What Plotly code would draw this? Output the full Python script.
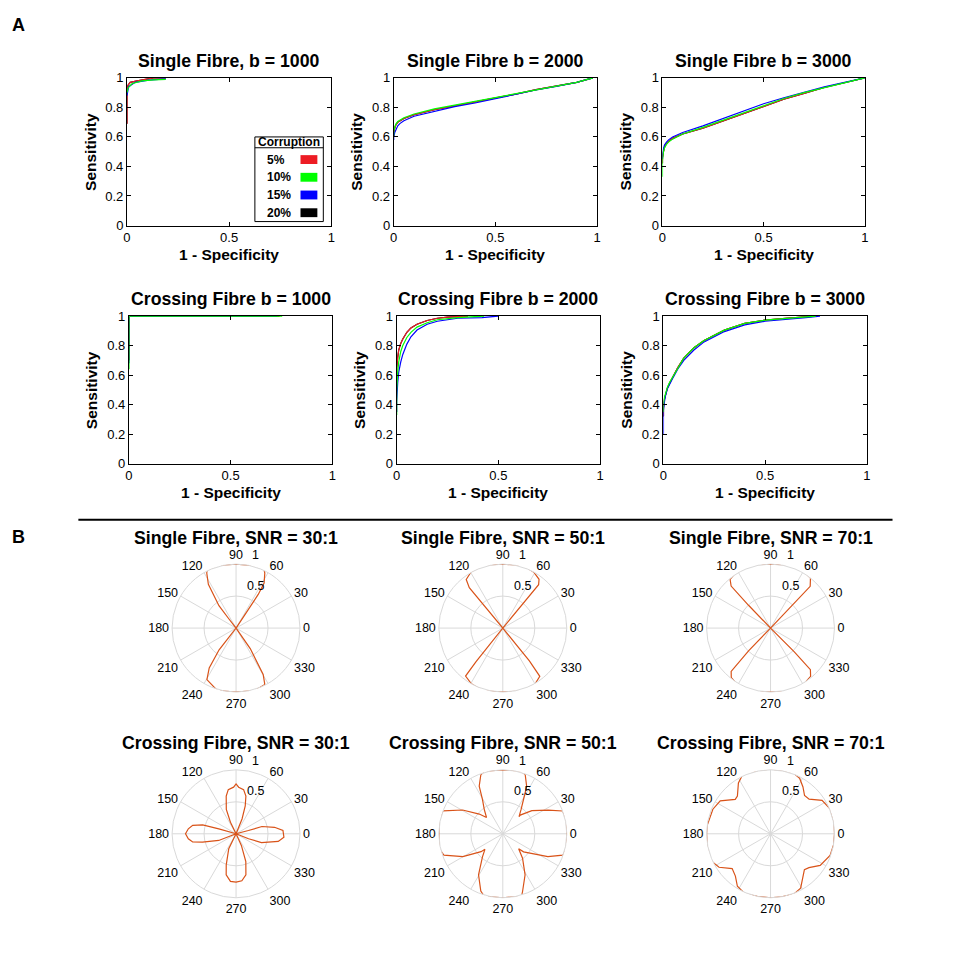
import plotly.graph_objects as go

# ---------------- DATA ----------------
corruption_levels = ["5%", "10%", "15%", "20%"]
corruption_colors = ["#ED1C24", "#00FF00", "#0000FF", "#000000"]

roc_titles = ["Single Fibre, b = 1000", "Single Fibre b = 2000", "Single Fibre b = 3000",
              "Crossing Fibre b = 1000", "Crossing Fibre b = 2000", "Crossing Fibre b = 3000"]
roc_xticks = [0, 0.5, 1]
roc_xticklabels = ["0", "0.5", "1"]
roc_yticks = [0, 0.2, 0.4, 0.6, 0.8, 1]
roc_yticklabels = ["0", "0.2", "0.4", "0.6", "0.8", "1"]

# Single fibre b=1000
sf1000_5_x = [0, 0, 0.005, 0.016, 0.05, 0.106, 0.13, 0.19]
sf1000_5_y = [0.69, 0.90, 0.95, 0.97, 0.98, 0.993, 1.0, 1.0]
sf1000_10_x = [0, 0.005, 0.024, 0.073, 0.13, 0.19]
sf1000_10_y = [0.90, 0.93, 0.96, 0.98, 0.987, 0.99]
sf1000_15_x = [0, 0.008, 0.04, 0.106, 0.19]
sf1000_15_y = [0.88, 0.94, 0.97, 0.985, 0.993]
sf1000_20_x = [0, 0, 0.005, 0.016, 0.05, 0.106, 0.13, 0.19]
sf1000_20_y = [0.69, 0.90, 0.95, 0.97, 0.98, 0.993, 1.0, 1.0]

# Single fibre b=2000
sf2000_x = [0, 0, 0.005, 0.01, 0.02, 0.03, 0.05, 0.1, 0.2, 0.3, 0.4, 0.5, 0.6, 0.7, 0.8, 0.9, 0.98]
sf2000_5_y = [0.60, 0.63, 0.66, 0.68, 0.70, 0.71, 0.725, 0.75, 0.785, 0.81, 0.835, 0.865, 0.89, 0.92, 0.945, 0.97, 1.0]
sf2000_10_y = [0.61, 0.64, 0.665, 0.685, 0.705, 0.715, 0.73, 0.755, 0.79, 0.815, 0.84, 0.865, 0.89, 0.92, 0.945, 0.97, 1.0]
sf2000_15_y = [0.58, 0.60, 0.63, 0.65, 0.675, 0.69, 0.71, 0.74, 0.775, 0.805, 0.83, 0.86, 0.888, 0.918, 0.943, 0.97, 1.0]
sf2000_20_y = [0.60, 0.63, 0.66, 0.68, 0.70, 0.71, 0.725, 0.75, 0.785, 0.81, 0.835, 0.865, 0.89, 0.92, 0.945, 0.97, 1.0]

# Single fibre b=3000
sf3000_x = [0, 0, 0.005, 0.01, 0.02, 0.03, 0.05, 0.1, 0.2, 0.3, 0.4, 0.5, 0.6, 0.7, 0.8, 0.9, 1.0]
sf3000_5_y = [0.42, 0.46, 0.50, 0.53, 0.555, 0.57, 0.59, 0.62, 0.66, 0.71, 0.76, 0.81, 0.855, 0.895, 0.935, 0.967, 1.0]
sf3000_10_y = [0.33, 0.44, 0.50, 0.525, 0.55, 0.565, 0.585, 0.62, 0.665, 0.715, 0.765, 0.815, 0.86, 0.90, 0.935, 0.968, 1.0]
sf3000_15_y = [0.45, 0.48, 0.52, 0.545, 0.565, 0.58, 0.60, 0.63, 0.675, 0.725, 0.775, 0.825, 0.865, 0.905, 0.94, 0.97, 1.0]
sf3000_20_y = [0.42, 0.46, 0.50, 0.53, 0.555, 0.57, 0.59, 0.62, 0.66, 0.71, 0.76, 0.81, 0.855, 0.895, 0.935, 0.967, 1.0]

# Crossing fibre b=1000
cf1000_5_x = [0, 0, 0.74]
cf1000_5_y = [0.70, 1.0, 1.0]
cf1000_10_x = [0, 0, 0.754]
cf1000_10_y = [0.64, 1.0, 1.0]
cf1000_15_x = [0, 0, 0.73]
cf1000_15_y = [0.68, 1.0, 1.0]
cf1000_20_x = [0, 0, 0.74]
cf1000_20_y = [0.70, 1.0, 1.0]

# Crossing fibre b=2000
cf2000_5_x = [0, 0, 0.005, 0.01, 0.02, 0.03, 0.05, 0.07, 0.1, 0.15, 0.2, 0.25, 0.35]
cf2000_5_y = [0.55, 0.65, 0.72, 0.77, 0.815, 0.845, 0.89, 0.92, 0.945, 0.97, 0.985, 0.993, 1.0]
cf2000_10_x = [0, 0, 0.005, 0.01, 0.02, 0.03, 0.05, 0.07, 0.1, 0.15, 0.2, 0.3, 0.43]
cf2000_10_y = [0.33, 0.50, 0.62, 0.69, 0.76, 0.80, 0.855, 0.89, 0.925, 0.955, 0.975, 0.99, 1.0]
cf2000_15_x = [0, 0, 0.005, 0.01, 0.02, 0.03, 0.05, 0.07, 0.1, 0.15, 0.2, 0.3, 0.42, 0.5]
cf2000_15_y = [0.35, 0.42, 0.55, 0.62, 0.69, 0.74, 0.81, 0.86, 0.905, 0.945, 0.965, 0.985, 0.99, 1.0]
cf2000_20_x = [0, 0, 0.005, 0.01, 0.02, 0.03, 0.05, 0.07, 0.1, 0.15, 0.2, 0.25, 0.35]
cf2000_20_y = [0.55, 0.65, 0.72, 0.77, 0.815, 0.845, 0.89, 0.92, 0.945, 0.97, 0.985, 0.993, 1.0]

# Crossing fibre b=3000
cf3000_x = [0, 0, 0.005, 0.01, 0.02, 0.03, 0.05, 0.07, 0.1, 0.15, 0.2, 0.3, 0.4, 0.5, 0.6, 0.7, 0.75]
cf3000_5_y = [0.32, 0.38, 0.44, 0.47, 0.515, 0.545, 0.60, 0.65, 0.715, 0.785, 0.835, 0.905, 0.95, 0.972, 0.985, 0.993, 1.0]
cf3000_10_y = [0.35, 0.40, 0.45, 0.48, 0.52, 0.55, 0.60, 0.65, 0.715, 0.785, 0.835, 0.905, 0.95, 0.972, 0.985, 0.993, 1.0]
cf3000_15_x = [0, 0, 0.005, 0.01, 0.02, 0.03, 0.05, 0.07, 0.1, 0.15, 0.2, 0.3, 0.4, 0.5, 0.6, 0.7, 0.77]
cf3000_15_y = [0.20, 0.36, 0.42, 0.46, 0.51, 0.54, 0.59, 0.64, 0.70, 0.77, 0.825, 0.895, 0.94, 0.965, 0.98, 0.99, 1.0]
cf3000_20_y = [0.32, 0.38, 0.44, 0.47, 0.515, 0.545, 0.60, 0.65, 0.715, 0.785, 0.835, 0.905, 0.95, 0.972, 0.985, 0.993, 1.0]

# Polar ODF profiles (theta in degrees, normalised amplitude)
polar_titles = ["Single Fibre, SNR = 30:1", "Single Fibre, SNR = 50:1", "Single Fibre, SNR = 70:1",
                "Crossing Fibre, SNR = 30:1", "Crossing Fibre, SNR = 50:1", "Crossing Fibre, SNR = 70:1"]
angle_ticks = [0, 30, 60, 90, 120, 150, 180, 210, 240, 270, 300, 330]
angle_ticklabels = ["0", "30", "60", "90", "120", "150", "180", "210", "240", "270", "300", "330"]
radial_ticks = [0.5, 1]
radial_ticklabels = ["0.5", "1"]

sf30_theta = [56, 56.6, 58.1, 62.4, 64.8, 73.3, 90, 106.5, 116.6, 118, 122.3, 127.4, 128, 128,
              232, 232, 236, 240.5, 253.5, 270, 286.8, 297, 300.3, 304.7, 305]
sf30_r = [0, 0.63, 0.83, 0.97, 1.02, 1.02, 1.0, 1.02, 1.01, 0.975, 0.81, 0.44, 0.18, 0,
          0, 0.43, 0.75, 0.925, 1.02, 1.0, 1.02, 0.99, 0.84, 0.39, 0]

sf50_theta = [50.5, 50.5, 53.4, 61, 72.2, 90, 106.2, 119.3, 127, 129.7, 129.7,
              231.4, 231.4, 232.2, 240.6, 252.3, 270, 288, 299.7, 307.5, 309, 309]
sf50_r = [0, 0.88, 0.95, 1.0, 1.03, 1.0, 1.03, 1.01, 0.95, 0.82, 0,
          0, 0.67, 0.95, 1.0, 1.03, 1.0, 1.03, 1.01, 0.95, 0.66, 0]

sf70_theta = [46, 46.5, 51.4, 60.2, 72.4, 90, 107, 122.7, 129.7, 133.2, 134, 134,
              226, 226, 227.7, 231.7, 241, 253, 270, 287, 298.7, 309.7, 313.8, 315, 315]
sf70_r = [0, 0.9, 1.0, 1.03, 1.035, 1.0, 1.035, 1.02, 0.99, 0.9, 0.49, 0,
          0, 0.49, 0.915, 0.99, 1.03, 1.035, 1.0, 1.035, 1.03, 0.98, 0.9, 0.52, 0]

cf30_theta = [338.5, 338.5, 341, 349.8, 356, 4, 9.6, 15.7, 14.7, 14.7,
              68, 68, 71.8, 75.4, 80.3, 86.8, 90, 93, 100, 104.6, 111.8, 116, 116,
              164, 164, 165, 169, 174, 180, 186, 190.7, 193.8, 201, 201,
              244, 244, 252.5, 256.5, 263.3, 270, 277, 283.5, 289.4, 294.6, 294.6]
cf30_r = [0, 0.21, 0.42, 0.67, 0.75, 0.735, 0.61, 0.42, 0.2, 0,
          0, 0.25, 0.46, 0.61, 0.70, 0.73, 0.78, 0.73, 0.70, 0.61, 0.41, 0.2, 0,
          0, 0.28, 0.54, 0.69, 0.75, 0.79, 0.75, 0.69, 0.54, 0.29, 0,
          0, 0.26, 0.51, 0.66, 0.75, 0.755, 0.74, 0.66, 0.46, 0.2, 0]

cf50_theta = [0, 13, 20.9, 27.5, 38.5, 47, 46.7, 53.3, 59, 63.3, 69.3, 74.6, 90, 106.5, 110.4,
              116.4, 120.6, 127.2, 135, 140, 149.4, 159, 167, 180, 193, 199.9, 209.8, 219.4,
              221, 228.5, 239.4, 249, 253.5, 270, 286.7, 289, 298.5, 309, 316.8, 319, 333.1,
              340.4, 347, 360]
cf50_r = [1.0, 1.02, 1.0, 0.8, 0.58, 0.40, 0.37, 0.48, 0.63, 0.83, 0.99, 1.02, 1.0, 1.02, 0.985,
          0.83, 0.625, 0.48, 0.36, 0.48, 0.73, 1.0, 1.02, 1.0, 1.02, 0.98, 0.72, 0.44,
          0.37, 0.48, 0.745, 0.96, 1.02, 1.0, 1.02, 0.95, 0.73, 0.49, 0.34, 0.43, 0.79,
          0.996, 1.02, 1.0]

cf70_theta = [0, 11, 22.4, 33, 41.9, 48.4, 55.3, 62.4, 70.3, 80, 90, 100, 114.7, 122.3, 131.3,
              135.8, 146.8, 156.9, 172.6, 180, 192, 203.3, 213, 222.2, 230.3, 237.7, 247, 258,
              270, 280, 291.3, 299, 313.4, 318.6, 327.5, 340, 350, 360]
cf70_r = [1.0, 1.01, 1.01, 0.96, 0.81, 0.80, 0.89, 0.98, 1.02, 1.01, 1.01, 1.01, 1.03, 0.94, 0.785,
          0.77, 0.94, 0.98, 1.0, 1.0, 1.01, 1.03, 0.96, 0.81, 0.86, 0.97, 1.02, 1.0,
          1.0, 1.0, 1.01, 0.97, 0.77, 0.80, 0.92, 0.99, 1.0, 1.0]

# ---------------- LAYOUT HELPERS ----------------
W, H = 959, 954
FONT = "Liberation Sans, Arial, sans-serif"
GRID = "#d9d9d9"
ODF_COLOR = "#D95319"
TITLE_SIZE = 17.7


def fx(px):
    return px / W


def fy(py):
    return 1 - py / H


roc_panels = [
    [(sf1000_20_x, sf1000_20_y), (sf1000_5_x, sf1000_5_y), (sf1000_10_x, sf1000_10_y), (sf1000_15_x, sf1000_15_y)],
    [(sf2000_x, sf2000_20_y), (sf2000_x, sf2000_5_y), (sf2000_x, sf2000_10_y), (sf2000_x, sf2000_15_y)],
    [(sf3000_x, sf3000_20_y), (sf3000_x, sf3000_5_y), (sf3000_x, sf3000_10_y), (sf3000_x, sf3000_15_y)],
    [(cf1000_20_x, cf1000_20_y), (cf1000_5_x, cf1000_5_y), (cf1000_10_x, cf1000_10_y), (cf1000_15_x, cf1000_15_y)],
    [(cf2000_20_x, cf2000_20_y), (cf2000_5_x, cf2000_5_y), (cf2000_10_x, cf2000_10_y), (cf2000_15_x, cf2000_15_y)],
    [(cf3000_x, cf3000_20_y), (cf3000_x, cf3000_5_y), (cf3000_x, cf3000_10_y), (cf3000_15_x, cf3000_15_y)],
]
panel_series = [3, 0, 1, 2]
draw_order = [0, 1, 3, 2]

roc_boxes = [(124, 330, 72, 222), (393, 598, 72, 222), (664, 868, 72, 222),
             (126, 331, 314, 464), (396, 601, 314, 464), (665, 870, 314, 464)]

polar_data = [(sf30_theta, sf30_r), (sf50_theta, sf50_r), (sf70_theta, sf70_r),
              (cf30_theta, cf30_r), (cf50_theta, cf50_r), (cf70_theta, cf70_r)]
polar_centers = [(234, 631), (503, 631), (773, 631), (234, 840), (503, 840), (773, 840)]
R = 65

fig = go.Figure()
layout = dict(width=W, height=H, margin=dict(l=0, r=0, t=0, b=0), autosize=False,
              paper_bgcolor="white", plot_bgcolor="white", showlegend=False,
              font=dict(family=FONT, color="black"), hovermode=False)
annotations = []
shapes = []

for i, (panel, box) in enumerate(zip(roc_panels, roc_boxes)):
    ax = "" if i == 0 else str(i + 1)
    l, r, t, b = box
    for k in draw_order:
        xs, ys = panel[k]
        s = panel_series[k]
        fig.add_trace(go.Scatter(x=xs, y=ys, mode="lines", xaxis="x" + ax, yaxis="y" + ax,
                                 line=dict(color=corruption_colors[s], width=1.2),
                                 name=corruption_levels[s], showlegend=False))
    common = dict(showline=True, linecolor="black", linewidth=1, mirror="ticks",
                  ticks="inside", ticklen=4, tickcolor="black", showgrid=False,
                  zeroline=False, tickfont=dict(size=13, family=FONT), fixedrange=True)
    layout["xaxis" + ax] = dict(domain=[fx(l), fx(r)], range=[0, 1], anchor="y" + ax,
                                tickmode="array", tickvals=roc_xticks, ticktext=roc_xticklabels, **common)
    layout["yaxis" + ax] = dict(domain=[fy(b), fy(t)], range=[0, 1], anchor="x" + ax,
                                tickmode="array", tickvals=roc_yticks, ticktext=roc_yticklabels, **common)
    annotations.append(dict(text=roc_titles[i], x=fx((l + r) / 2), y=fy(t - 17), xref="paper", yref="paper",
                            showarrow=False, xanchor="center", yanchor="middle",
                            font=dict(size=TITLE_SIZE, family=FONT, weight="bold")))
    annotations.append(dict(text="1 - Specificity", x=fx((l + r) / 2), y=fy(b + 29), xref="paper", yref="paper",
                            showarrow=False, xanchor="center", yanchor="middle",
                            font=dict(size=15.5, family=FONT, weight="bold")))
    annotations.append(dict(text="Sensitivity", x=fx(l - 37), y=fy((t + b) / 2), xref="paper", yref="paper",
                            showarrow=False, xanchor="center", yanchor="middle", textangle=-90,
                            font=dict(size=15.5, family=FONT, weight="bold")))

# Legend (Corruption) drawn inside first panel
lg_l, lg_r, lg_t, lg_b = 253, 322, 132, 218
shapes.append(dict(type="rect", xref="paper", yref="paper", x0=fx(lg_l), x1=fx(lg_r), y0=fy(lg_b), y1=fy(lg_t),
                   line=dict(color="black", width=1), fillcolor="white"))
shapes.append(dict(type="line", xref="paper", yref="paper", x0=fx(lg_l), x1=fx(lg_r), y0=fy(143), y1=fy(143),
                   line=dict(color="black", width=1)))
annotations.append(dict(text="Corruption", x=fx((lg_l + lg_r) / 2), y=fy(137.5), xref="paper", yref="paper",
                        showarrow=False, xanchor="center", yanchor="middle",
                        font=dict(size=12, family=FONT, weight="bold")))
for s, (lab, col) in enumerate(zip(corruption_levels, corruption_colors)):
    yc = 155 + 18 * s
    annotations.append(dict(text=lab, x=fx(263), y=fy(yc), xref="paper", yref="paper",
                            showarrow=False, xanchor="left", yanchor="middle",
                            font=dict(size=12, family=FONT, weight="bold")))
    shapes.append(dict(type="rect", xref="paper", yref="paper", x0=fx(299), x1=fx(316),
                       y0=fy(yc + 4.5), y1=fy(yc - 4.5), line=dict(width=0), fillcolor=col))

# Polar plots
for j, ((th, rr), (cx, cy)) in enumerate(zip(polar_data, polar_centers)):
    name = "polar" if j == 0 else "polar%d" % (j + 1)
    fig.add_trace(go.Scatterpolar(theta=th, r=rr, mode="lines", subplot=name,
                                  line=dict(color=ODF_COLOR, width=1.2), showlegend=False,
                                  cliponaxis=False))
    layout[name] = dict(
        domain=dict(x=[fx(cx - R), fx(cx + R)], y=[fy(cy + R), fy(cy - R)]),
        bgcolor="white",
        radialaxis=dict(range=[0, 1], tickmode="array", tickvals=radial_ticks, showticklabels=False,
                        ticks="", showline=False, gridcolor=GRID, gridwidth=1),
        angularaxis=dict(tickmode="array", tickvals=angle_ticks, ticktext=angle_ticklabels,
                         ticks="", showline=True, linecolor=GRID, linewidth=1, gridcolor=GRID,
                         tickfont=dict(size=12.5, family=FONT, color="black"),
                         rotation=0, direction="counterclockwise"),
    )
    for lab, (dx, dy) in zip(radial_ticklabels, [(20, 43), (20, 74)]):
        annotations.append(dict(text=lab, x=fx(cx + dx), y=fy(cy - dy), xref="paper", yref="paper",
                                showarrow=False, xanchor="center", yanchor="middle",
                                font=dict(size=12.5, family=FONT)))
    annotations.append(dict(text=polar_titles[j], x=fx(cx), y=fy(cy - 92), xref="paper", yref="paper",
                            showarrow=False, xanchor="center", yanchor="middle",
                            font=dict(size=TITLE_SIZE, family=FONT, weight="bold")))

# Panel letters and separator
annotations.append(dict(text="A", x=fx(15), y=fy(18), xref="paper", yref="paper", showarrow=False,
                        xanchor="center", yanchor="middle", font=dict(size=18, family=FONT, weight="bold")))
annotations.append(dict(text="B", x=fx(15), y=fy(538), xref="paper", yref="paper", showarrow=False,
                        xanchor="center", yanchor="middle", font=dict(size=18, family=FONT, weight="bold")))
shapes.append(dict(type="line", xref="paper", yref="paper", x0=fx(75), x1=fx(896), y0=fy(521), y1=fy(521),
                   line=dict(color="black", width=2)))

layout["annotations"] = annotations
layout["shapes"] = shapes
fig.update_layout(**layout)
fig.write_html("out.html", config={"displayModeBar": False, "staticPlot": True})

# remove default page margins so the figure maps 1:1 onto the window
with open("out.html", "r", encoding="utf-8") as fh:
    html = fh.read()
html = html.replace("<head>", "<head><style>html,body{margin:0;padding:0;overflow:hidden;}</style>", 1)
with open("out.html", "w", encoding="utf-8") as fh:
    fh.write(html)
